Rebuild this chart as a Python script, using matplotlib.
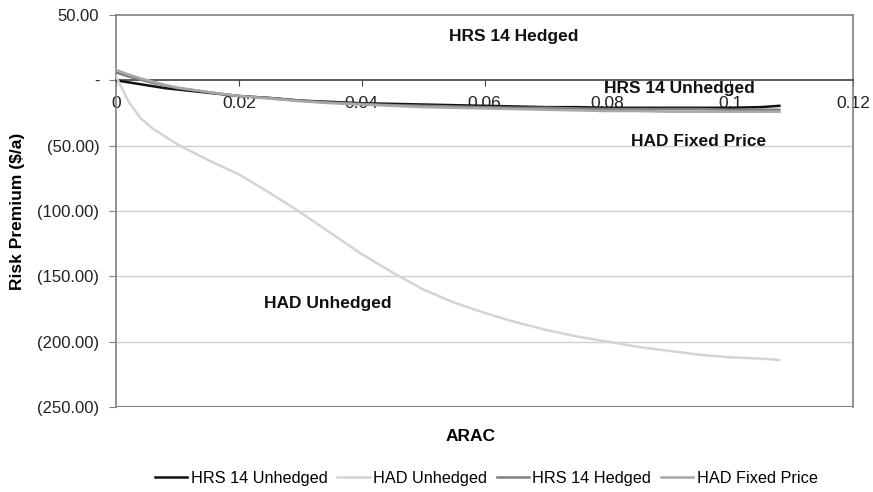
import matplotlib
matplotlib.use("Agg")
import matplotlib.pyplot as plt
from matplotlib.ticker import FuncFormatter, FixedLocator

plt.rcParams["font.family"] = ["Liberation Sans", "DejaVu Sans"]

# ARAC values (x) and risk premium ($/a) per series
arac = [0, 0.002, 0.004, 0.006, 0.008, 0.010, 0.015, 0.020, 0.025, 0.030,
        0.035, 0.040, 0.045, 0.050, 0.055, 0.060, 0.065, 0.070, 0.075,
        0.080, 0.085, 0.090, 0.095, 0.100, 0.105, 0.108]
hrs14_unhedged = [0, -1.5, -3, -4.5, -6, -7, -9.5, -12, -13.5, -15.5,
                  -16.5, -17.5, -18, -18.5, -19, -19.5, -20, -20.5, -20.5,
                  -21, -21, -21, -21, -21, -20.5, -19.5]
had_unhedged = [3, -16, -29, -37, -43, -49, -61, -72, -86, -101,
                -117, -133, -147, -160, -170, -178, -185, -191, -196,
                -200, -204, -207, -210, -212, -213, -214]
hrs14_hedged = [6, 3, 0.5, -2, -4, -6, -9, -12, -13.5, -15.5,
                -17, -18, -19, -19.5, -20, -20.5, -21, -21, -21.5,
                -22, -22, -22, -22, -22.5, -22.5, -22.5]
had_fixed = [8, 4.5, 1.5, -1, -3.5, -5.5, -9, -12, -14, -16,
             -17.5, -18.5, -19.5, -20.5, -21, -21.5, -22, -22.5, -23,
             -23.5, -23.5, -24, -24, -24, -24, -24]

series = [
    ("HRS 14 Unhedged", hrs14_unhedged, "#111111"),
    ("HAD Unhedged", had_unhedged, "#d4d4d4"),
    ("HRS 14 Hedged", hrs14_hedged, "#7f7f7f"),
    ("HAD Fixed Price", had_fixed, "#a8a8a8"),
]

x_ticks = [0, 0.02, 0.04, 0.06, 0.08, 0.1, 0.12]
y_ticks = [50, 0, -50, -100, -150, -200, -250]

fig = plt.figure(figsize=(8.73, 4.92), dpi=100)
ax = fig.add_axes([0.1329, 0.1728, 0.9771 - 0.1329, 0.9695 - 0.1728])

for name, vals, color in series:
    ax.plot(arac, vals, color=color, lw=1.8, label=name, zorder=3)

ax.set_xlim(0, 0.12)
ax.set_ylim(-250, 50)

# excel-like axes: x axis sits on zero
ax.spines["bottom"].set_position(("data", 0))
for s in ["top", "right", "left"]:
    ax.spines[s].set_color("#808080")
    ax.spines[s].set_linewidth(1.2)
ax.spines["bottom"].set_color("#404040")
ax.spines["bottom"].set_linewidth(1.2)
ax.axhline(-250, color="#808080", lw=1.5, zorder=2)

ax.xaxis.set_major_locator(FixedLocator(x_ticks))
ax.xaxis.set_major_formatter(FuncFormatter(lambda v, p: "%g" % round(v, 4)))
ax.yaxis.set_major_locator(FixedLocator(y_ticks))

def yfmt(v, p):
    if abs(v) < 1e-9:
        return "-"
    if v < 0:
        return "(%.2f)" % abs(v)
    return "%.2f" % v

ax.yaxis.set_major_formatter(FuncFormatter(yfmt))
ax.tick_params(axis="x", direction="out", length=4, color="#404040",
               labelsize=12.5, labelcolor="#222222", pad=7)
ax.tick_params(axis="y", direction="out", length=5, color="#808080",
               labelsize=12, labelcolor="#222222", pad=7)

for y in [-50, -100, -150, -200]:
    ax.axhline(y, color="#cfcfcf", lw=1.0, zorder=1)

ax.set_ylabel("Risk Premium ($/a)", fontsize=12.5, fontweight="bold", labelpad=9)
fig.text(0.5395, 0.112, "ARAC", ha="center", va="center", fontsize=12.5,
         fontweight="bold")

# series labels inside the plot
ann = dict(fontsize=12.5, fontweight="bold", color="#111111", ha="center",
           va="center", zorder=4)
ax.text(0.0648, 33.5, "HRS 14 Hedged", **ann)
ax.text(0.0917, -6.5, "HRS 14 Unhedged", **ann)
ax.text(0.0949, -46.5, "HAD Fixed Price", **ann)
ax.text(0.0345, -171, "HAD Unhedged", **ann)

fig.legend(loc="center", bbox_to_anchor=(0.557, 0.028), ncol=4, frameon=False,
           fontsize=11.7, handlelength=2.0, handletextpad=0.2, columnspacing=0.6)

fig.savefig("out.png", dpi=100, facecolor="white")
